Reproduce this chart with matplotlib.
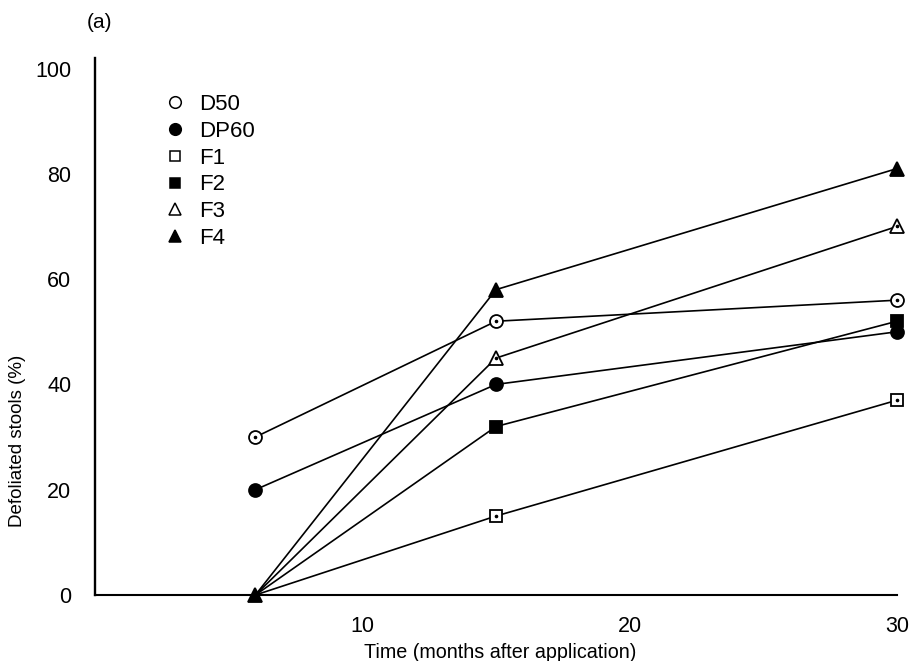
import matplotlib
matplotlib.use("Agg")
import matplotlib.pyplot as plt
from matplotlib.lines import Line2D

plt.rcParams['font.family'] = ['Liberation Sans', 'DejaVu Sans']

# ---- data ----
months = [6, 15, 30]
series_names = ["D50", "DP60", "F1", "F2", "F3", "F4"]
d50 = [30, 52, 56]
dp60 = [20, 40, 50]
f1 = [0, 15, 37]
f2 = [0, 32, 52]
f3 = [0, 45, 70]
f4 = [0, 58, 81]
series_values = [d50, dp60, f1, f2, f3, f4]
x_ticks = [10, 20, 30]
y_ticks = [0, 20, 40, 60, 80, 100]

# ---- styles ----
markers = ["o", "o", "s", "s", "^", "^"]
filled = [False, True, False, True, False, True]
msizes = [9.3, 9.3, 8, 8, 10, 10]
# coincident points at the origin show only the F4 symbol in the original
mark_every = [None, None, [1, 2], [1, 2], [1, 2], None]

W, H = 910, 661
fig = plt.figure(figsize=(W / 100, H / 100), dpi=100)
fig.patch.set_facecolor("white")
ax = fig.add_axes([95 / W, 1 - 595 / H, (897 - 95) / W, (595 - 58) / H])
ax.set_facecolor("white")

handles = []
for name, vals, m, fl, ms, me in zip(series_names, series_values, markers,
                                     filled, msizes, mark_every):
    ax.plot(months, vals, color="black", lw=1.2, zorder=2)
    ax.plot(months, vals, linestyle="none", marker=m, ms=ms, markevery=me,
            markerfacecolor="black" if fl else "white",
            markeredgecolor="black", markeredgewidth=1.3, zorder=3,
            clip_on=False)
    if not fl:
        # small centre dot seen in the printed open symbols
        ax.plot(months, vals, linestyle="none", marker="o", ms=1.6,
                markevery=me, color="black", zorder=4, clip_on=False)
    handles.append(Line2D([], [], linestyle="none", marker=m, ms=ms * 0.9,
                          markerfacecolor="black" if fl else "white",
                          markeredgecolor="black", markeredgewidth=1.1))

ax.set_xlim(0, 30)
ax.set_ylim(0, 102)
ax.set_xticks(x_ticks)
ax.set_yticks(y_ticks)
ax.set_xticklabels([str(t) for t in x_ticks])
ax.set_yticklabels([str(t) for t in y_ticks])
ax.tick_params(axis="both", length=0, labelsize=15.5)
ax.tick_params(axis="y", pad=17)
ax.tick_params(axis="x", pad=15)

for s in ["top", "right"]:
    ax.spines[s].set_visible(False)
ax.spines["left"].set_linewidth(1.7)
ax.spines["bottom"].set_linewidth(1.5)

ax.set_xlabel("Time (months after application)", fontsize=14.2)
ax.xaxis.set_label_coords(0.505, -0.089)
ax.set_ylabel("Defoliated stools (%)", fontsize=13.5)
ax.yaxis.set_label_coords(-0.086, 0.287)

fig.text(100 / W, 1 - 22 / H, "(a)", fontsize=15, ha="center", va="center")

leg = ax.legend(handles, series_names, loc="upper left",
                bbox_to_anchor=(164 / W, 1 - 94 / H),
                bbox_transform=fig.transFigure, frameon=False,
                fontsize=16, borderpad=0, borderaxespad=0,
                handlelength=1.0, handletextpad=0.6, labelspacing=0.26)

fig.savefig("out.png", dpi=100, facecolor="white")
